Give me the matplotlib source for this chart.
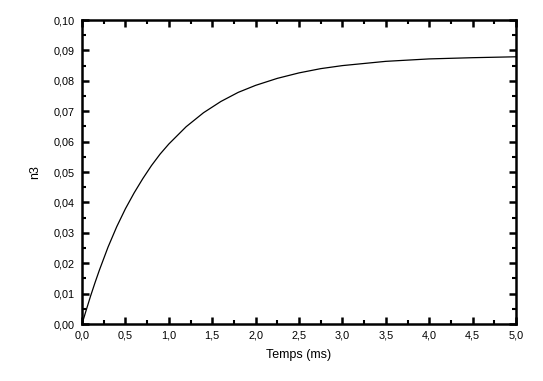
import matplotlib
matplotlib.use("Agg")
import matplotlib.pyplot as plt
from matplotlib.ticker import MultipleLocator, FuncFormatter

# Data
t_ms = [0.0, 0.05, 0.1, 0.15, 0.2, 0.3, 0.4, 0.5, 0.6, 0.7, 0.8, 0.9, 1.0,
        1.2, 1.4, 1.6, 1.8, 2.0, 2.25, 2.5, 2.75, 3.0, 3.5, 4.0, 4.5, 5.0]
n3 = [0.0, 0.0047, 0.0093, 0.0136, 0.0177, 0.0253, 0.0320, 0.0379, 0.0431,
      0.0478, 0.0521, 0.0559, 0.0592, 0.0649, 0.0695, 0.0732, 0.0762,
      0.0785, 0.0808, 0.0826, 0.0840, 0.0850, 0.0864, 0.0872, 0.0876, 0.0879]

plt.rcParams['font.family'] = ['Liberation Sans', 'DejaVu Sans']

fig = plt.figure(figsize=(5.43, 3.81), dpi=100)
ax = fig.add_axes([82/543, 1-324/381, (516-82)/543, (324-20)/381])

ax.plot(t_ms, n3, color='black', linewidth=0.9)

ax.set_xlim(0, 5)
ax.set_ylim(0, 0.10)
ax.xaxis.set_major_locator(MultipleLocator(0.5))
ax.xaxis.set_minor_locator(MultipleLocator(0.25))
ax.yaxis.set_major_locator(MultipleLocator(0.01))
ax.yaxis.set_minor_locator(MultipleLocator(0.005))
ax.xaxis.set_major_formatter(FuncFormatter(lambda v, p: f"{v:.1f}".replace('.', ',')))
ax.yaxis.set_major_formatter(FuncFormatter(lambda v, p: f"{v:.2f}".replace('.', ',')))

for s in ax.spines.values():
    s.set_linewidth(1.8)
ax.tick_params(which='both', direction='in', top=True, right=True, labelsize=7.8)
ax.tick_params(which='major', length=5, width=1.8, pad=5)
ax.tick_params(which='minor', length=3, width=1.5)

ax.set_xlabel('Temps (ms)', fontsize=9, labelpad=6)
ax.set_ylabel('n3', fontsize=9, labelpad=9)

fig.savefig('out.png', dpi=100)
